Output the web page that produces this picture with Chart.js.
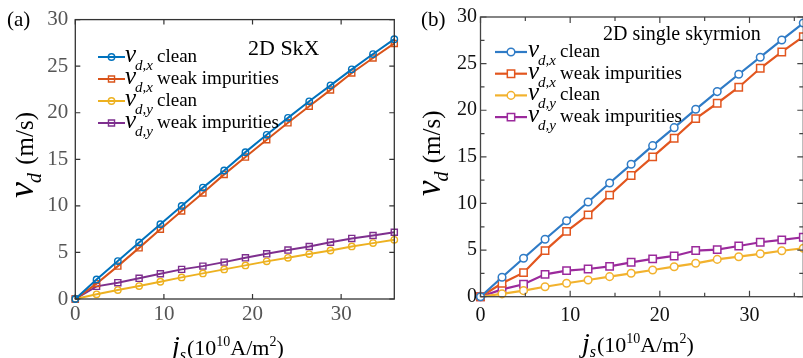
<!DOCTYPE html>
<html><head><meta charset="utf-8">
<script src="https://cdn.jsdelivr.net/npm/chart.js@4/dist/chart.umd.min.js"></script>
<style>
html,body{margin:0;padding:0;background:#fff;overflow:hidden;width:803px;height:358px;}
#wa{position:absolute;left:0;top:0;width:400px;height:358px;}
#wb{position:absolute;left:400px;top:0;width:410px;height:358px;}
canvas{display:block;}
#probe{position:absolute;left:-1000px;top:0;font-family:"Liberation Serif";font-size:20px;}
#probe2{position:absolute;left:-1000px;top:30px;font-family:"Liberation Serif";font-style:italic;font-size:20px;}
</style></head><body>
<span id="probe">Ab (10) weak</span><span id="probe2">vdj</span>
<div id="wa"><canvas id="ca" width="400" height="358"></canvas></div>
<div id="wb"><canvas id="cb" width="410" height="358"></canvas></div>
<script>
// ---------- data ----------
const jA = [0, 2.4, 4.8, 7.2, 9.6, 12, 14.4, 16.8, 19.2, 21.6, 24, 26.4, 28.8, 31.2, 33.6, 36];
const vdxCleanA = [0, 2.1, 4.07, 6.07, 8.03, 9.99, 11.96, 13.8, 15.77, 17.63, 19.45, 21.23, 22.94, 24.66, 26.3, 27.9];
const vdxWeakA  = [0, 1.65, 3.53, 5.49, 7.5, 9.45, 11.38, 13.38, 15.24, 17.1, 18.92, 20.7, 22.45, 24.27, 25.88, 27.44];
const vdyCleanA = [0, 0.5, 0.96, 1.39, 1.85, 2.32, 2.75, 3.18, 3.61, 4.04, 4.42, 4.82, 5.21, 5.64, 6.0, 6.35];
const vdyWeakA  = [0, 1.36, 1.75, 2.22, 2.71, 3.18, 3.53, 3.96, 4.42, 4.85, 5.25, 5.64, 6.1, 6.5, 6.82, 7.17];

const jB = [0, 2.4, 4.8, 7.2, 9.6, 12, 14.4, 16.8, 19.2, 21.6, 24, 26.4, 28.8, 31.2, 33.6, 36];
const vdxCleanB = [0, 2.08, 4.12, 6.16, 8.15, 10.16, 12.2, 14.2, 16.2, 18.13, 20.1, 22.0, 23.86, 25.69, 27.54, 29.35];
const vdxWeakB  = [0, 1.44, 2.58, 4.94, 7.0, 8.77, 10.9, 13.0, 15.0, 17.0, 19.1, 20.75, 22.47, 24.5, 26.25, 27.9];
const vdyCleanB = [0, 0.3, 0.65, 1.07, 1.44, 1.79, 2.15, 2.51, 2.86, 3.22, 3.58, 4.0, 4.29, 4.6, 4.93, 5.2];
const vdyWeakB  = [0, 0.79, 1.33, 2.4, 2.79, 2.97, 3.26, 3.69, 4.05, 4.37, 4.95, 5.05, 5.44, 5.84, 6.1, 6.38];

const seriesSubs  = ['d,x', 'd,x', 'd,y', 'd,y'];
const seriesWords = ['clean', 'weak impurities', 'clean', 'weak impurities'];
const yTicksMajor = [0, 5, 10, 15, 20, 25, 30];
const xTicksMajor = [0, 10, 20, 30];
const xMinorB = [5, 15, 25, 35];
const yMinorB = [2.5, 7.5, 12.5, 17.5, 22.5, 27.5];
const titleA = '2D SkX';
const titleB = '2D single skyrmion';
const panelA = '(a)';
const panelB = '(b)';

// ---------- helpers ----------
const SERIF = '"Liberation Serif", "DejaVu Serif", serif';
function rich(ctx, parts, x, y) {
  let cx = x;
  for (const p of parts) {
    ctx.font = p.f;
    ctx.fillStyle = p.c || '#000';
    cx += (p.dx || 0);
    ctx.fillText(p.t, cx, y + (p.dy || 0));
    cx += ctx.measureText(p.t).width;
  }
  return cx;
}
function pts(xs, ys) { return xs.map((x, i) => ({x: x, y: ys[i]})); }
function marker(ctx, style, x, y, r, color, lw, fill) {
  ctx.save();
  ctx.strokeStyle = color; ctx.lineWidth = lw; ctx.fillStyle = fill;
  ctx.beginPath();
  if (style === 'circle') ctx.arc(x, y, r, 0, Math.PI * 2);
  else { const s = Math.SQRT1_2 * r; ctx.rect(x - s, y - s, 2 * s, 2 * s); }
  if (fill !== 'transparent') ctx.fill();
  ctx.stroke();
  ctx.restore();
}

const decor = {
  id: 'decor',
  afterDatasetsDraw(chart, args, o) {
    const ctx = chart.ctx, a = chart.chartArea;
    const xs = chart.scales.x, ys = chart.scales.y;
    ctx.save();
    ctx.strokeStyle = o.axisColor; ctx.lineWidth = o.tickWidth;
    ctx.beginPath();
    const xt = (v, L) => { const p = xs.getPixelForValue(v);
      ctx.moveTo(p, a.bottom); ctx.lineTo(p, a.bottom - L);
      ctx.moveTo(p, a.top); ctx.lineTo(p, a.top + L); };
    const yt = (v, L) => { const p = ys.getPixelForValue(v);
      ctx.moveTo(a.left, p); ctx.lineTo(a.left + L, p);
      ctx.moveTo(a.right, p); ctx.lineTo(a.right - L, p); };
    xTicksMajor.forEach(v => xt(v, o.tickLen));
    yTicksMajor.forEach(v => yt(v, o.tickLen));
    (o.xMinor || []).forEach(v => xt(v, o.minorLen));
    (o.yMinor || []).forEach(v => yt(v, o.minorLen));
    ctx.stroke();
    ctx.lineWidth = o.boxWidth;
    ctx.strokeRect(a.left, a.top, a.right - a.left, a.bottom - a.top);
    ctx.restore();
  },
  afterDraw(chart, args, o) {
    const ctx = chart.ctx;
    ctx.save();
    ctx.textBaseline = 'alphabetic'; ctx.textAlign = 'left';
    rich(ctx, [{t: o.panel, f: o.panelFont}], o.panelX, o.panelY);
    rich(ctx, [{t: o.title, f: o.titleFont}], o.titleX, o.titleY);
    const L = o.legend;
    chart.data.datasets.forEach((ds, i) => {
      const y = L.y0 + i * L.gap;
      ctx.save();
      ctx.strokeStyle = ds.borderColor; ctx.lineWidth = ds.borderWidth;
      ctx.beginPath(); ctx.moveTo(L.x0, y); ctx.lineTo(L.x1, y); ctx.stroke();
      ctx.restore();
      marker(ctx, ds.pointStyle, (L.x0 + L.x1) / 2, y, ds.pointRadius, ds.borderColor, ds.pointBorderWidth, ds.pointBackgroundColor);
      rich(ctx, [{t: 'v', f: 'italic ' + L.vSize + 'px ' + SERIF}], L.vx, y + L.base);
      rich(ctx, [{t: seriesSubs[i], f: 'italic ' + L.subSize + 'px ' + SERIF}], L.vx + L.subDx, y + L.base + L.subDy);
      rich(ctx, [{t: seriesWords[i], f: L.txtSize + 'px ' + SERIF}], L.tx, y + L.base);
    });
    const Y = o.ytitle;
    ctx.save();
    ctx.translate(Y.x, Y.y); ctx.rotate(-Math.PI / 2);
    rich(ctx, [
      {t: 'v', f: 'italic ' + Y.v + 'px ' + SERIF},
      {t: 'd', f: 'italic ' + Y.sub + 'px ' + SERIF, dy: Y.subDy, dx: -1},
      {t: ' (m/s)', f: Y.txt + 'px ' + SERIF, dx: 2}
    ], 0, 0);
    ctx.restore();
    const X = o.xtitle;
    rich(ctx, [
      {t: 'j', f: 'italic ' + X.j + 'px ' + SERIF},
      {t: 's', f: 'italic ' + X.sub + 'px ' + SERIF, dy: X.subDy, dx: 0},
      {t: '(10', f: X.txt + 'px ' + SERIF, dx: 1},
      {t: '10', f: X.sup + 'px ' + SERIF, dy: X.supDy},
      {t: 'A/m', f: X.txt + 'px ' + SERIF},
      {t: '2', f: X.sup + 'px ' + SERIF, dy: X.supDy},
      {t: ')', f: X.txt + 'px ' + SERIF}
    ], X.x, X.y);
    ctx.restore();
  }
};

function ds(xs, ys, color, style, r, lw, plw, fill) {
  return {
    data: pts(xs, ys), borderColor: color, backgroundColor: color,
    borderWidth: lw, pointStyle: style, pointRadius: r, pointBorderWidth: plw,
    pointBackgroundColor: fill, pointBorderColor: color, tension: 0, clip: false, showLine: true
  };
}

function makeOpts(cfg) {
  return {
    responsive: false, animation: false, devicePixelRatio: 1,
    layout: {padding: {top: cfg.padTop, right: cfg.padRight, left: 0, bottom: 0}},
    plugins: {legend: {display: false}, tooltip: {enabled: false}, decor: cfg.decor},
    scales: {
      x: {type: 'linear', min: 0, max: 36,
        afterBuildTicks: s => { s.ticks = xTicksMajor.map(v => ({value: v})); },
        afterFit: s => { s.height = cfg.xH; },
        grid: {display: false, drawTicks: false}, border: {display: false},
        ticks: {color: cfg.tickColor, padding: cfg.xPad, maxRotation: 0, autoSkip: false,
          font: {family: SERIF, size: cfg.tickSize}}},
      y: {type: 'linear', min: 0, max: 30,
        afterBuildTicks: s => { s.ticks = yTicksMajor.map(v => ({value: v})); },
        afterFit: s => { s.width = cfg.yW; },
        grid: {display: false, drawTicks: false}, border: {display: false},
        ticks: {color: cfg.tickColor, padding: cfg.yPad, autoSkip: false,
          font: {family: SERIF, size: cfg.tickSize}}}
    }
  };
}

const colA = ['#0072BD', '#D95319', '#EDB120', '#7E2F8E'];
const colB = ['#2F7BC6', '#E2561F', '#F2B22E', '#9B2A9C'];

function build() {
  new Chart(document.getElementById('ca'), {
    type: 'line',
    data: {datasets: [
      ds(jA, vdxCleanA, colA[0], 'circle', 3.2, 2, 1.4, 'transparent'),
      ds(jA, vdxWeakA,  colA[1], 'rect',   4.3, 2, 1.4, 'transparent'),
      ds(jA, vdyCleanA, colA[2], 'circle', 3.2, 2, 1.4, 'transparent'),
      ds(jA, vdyWeakA,  colA[3], 'rect',   4.3, 2, 1.4, 'transparent')
    ]},
    options: makeOpts({
      padTop: 18, padRight: 4.5, xH: 59, yW: 75.3, tickColor: '#555', tickSize: 21, xPad: 3, yPad: 7,
      decor: {
        axisColor: '#333', tickWidth: 1.2, boxWidth: 1.3, tickLen: 5, minorLen: 3,
        panel: panelA, panelFont: '21px ' + SERIF, panelX: 7, panelY: 26,
        title: titleA, titleFont: '22px ' + SERIF, titleX: 248, titleY: 55,
        legend: {x0: 98, x1: 125, y0: 57, gap: 22, vx: 125, vSize: 25, subSize: 15, subDx: 10, subDy: 8, base: 5, tx: 157, txtSize: 19},
        ytitle: {x: 33, y: 198, v: 36, sub: 20, subDy: 8, txt: 25},
        xtitle: {x: 172, y: 355, j: 28, sub: 16, subDy: 5, txt: 22, sup: 14, supDy: -9}
      }
    }),
    plugins: [decor]
  });

  new Chart(document.getElementById('cb'), {
    type: 'line',
    data: {datasets: [
      ds(jB, vdxCleanB, colB[0], 'circle', 3.8, 2.2, 1.5, '#fff'),
      ds(jB, vdxWeakB,  colB[1], 'rect',   5.2, 2.2, 1.5, '#fff'),
      ds(jB, vdyCleanB, colB[2], 'circle', 3.8, 2.2, 1.5, '#fff'),
      ds(jB, vdyWeakB,  colB[3], 'rect',   5.2, 2.2, 1.5, '#fff')
    ]},
    options: makeOpts({
      padTop: 17, padRight: 1.5, xH: 61.3, yW: 80.5, tickColor: '#111', tickSize: 20, xPad: 7, yPad: 3.5,
      decor: {
        axisColor: '#444', tickWidth: 1.2, boxWidth: 1.3, tickLen: 6, minorLen: 4,
        xMinor: xMinorB, yMinor: yMinorB,
        panel: panelB, panelFont: '21px ' + SERIF, panelX: 21, panelY: 26,
        title: titleB, titleFont: '20px ' + SERIF, titleX: 203, titleY: 40,
        legend: {x0: 95, x1: 127, y0: 52, gap: 21.7, vx: 128, vSize: 25, subSize: 15, subDx: 10, subDy: 8, base: 5, tx: 160, txtSize: 19},
        ytitle: {x: 40, y: 196, v: 35, sub: 20, subDy: 8, txt: 25},
        xtitle: {x: 182, y: 352, j: 28, sub: 16, subDy: 5, txt: 22, sup: 14, supDy: -9}
      }
    }),
    plugins: [decor]
  });
}

Promise.all([
  document.fonts.load('20px "Liberation Serif"'),
  document.fonts.load('italic 20px "Liberation Serif"')
]).then(build, build);
</script>
</body></html>
